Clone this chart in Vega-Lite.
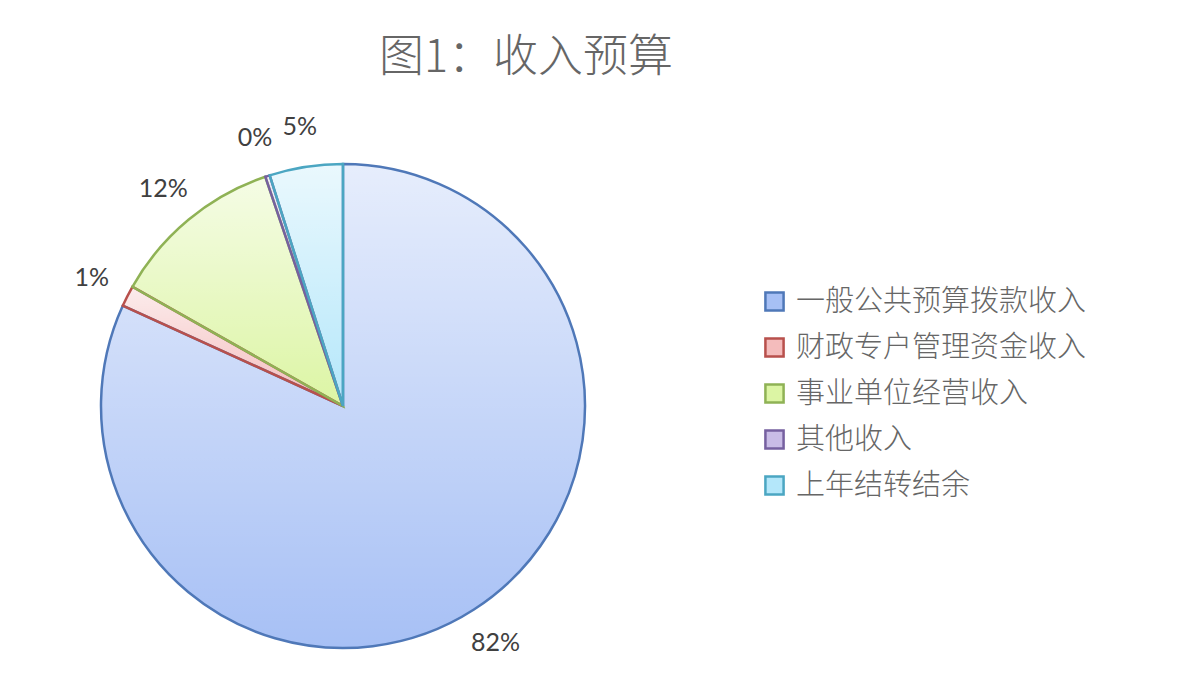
{
  "$schema": "https://vega.github.io/schema/vega-lite/v6.json",
  "width": 686,
  "height": 572,
  "autosize": "none",
  "padding": {"left": 0, "top": 120, "right": 508, "bottom": 0},
  "background": "white",
  "title": {
    "text": "图1：收入预算",
    "font": "Noto Sans CJK SC",
    "fontSize": 45,
    "fontWeight": 300,
    "color": "#666666",
    "anchor": "middle",
    "dx": 183,
    "offset": 34
  },
  "data": {
    "values": [
      {"item": "一般公共预算拨款收入", "share": 0.818, "rank": 1},
      {"item": "财政专户管理资金收入", "share": 0.014, "rank": 2},
      {"item": "事业单位经营收入", "share": 0.116, "rank": 3},
      {"item": "其他收入", "share": 0.003, "rank": 4},
      {"item": "上年结转结余", "share": 0.049, "rank": 5}
    ]
  },
  "config": {
    "view": {"stroke": null},
    "legend": {
      "orient": "none",
      "legendX": 760,
      "legendY": 167,
      "title": null,
      "symbolType": "square",
      "symbolSize": 330,
      "symbolStrokeWidth": 2.5,
      "labelFont": "Noto Sans CJK SC",
      "labelFontSize": 29,
      "labelFontWeight": 300,
      "labelColor": "#666666",
      "labelLimit": 400,
      "labelOffset": 7,
      "rowPadding": 16
    }
  },
  "layer": [
    {
      "mark": {"type": "arc", "outerRadius": 242, "strokeWidth": 0},
      "encoding": {
        "theta": {"field": "share", "type": "quantitative", "stack": true},
        "order": {"field": "rank"},
        "fill": {
          "field": "item",
          "type": "nominal",
          "sort": null,
          "scale": {
            "domain": ["一般公共预算拨款收入", "财政专户管理资金收入", "事业单位经营收入", "其他收入", "上年结转结余"],
            "range": ["#a7c0f5", "#f4bcbc", "#dcf5a4", "#c9bce6", "#b4e7fa"]
          }
        },
        "stroke": {
          "field": "item",
          "type": "nominal",
          "sort": null,
          "scale": {
            "domain": ["一般公共预算拨款收入", "财政专户管理资金收入", "事业单位经营收入", "其他收入", "上年结转结余"],
            "range": ["#4f78b8", "#b8504c", "#8fb255", "#7660a0", "#4ba6c2"]
          }
        }
      }
    },
    {
      "mark": {
        "type": "arc",
        "outerRadius": 242,
        "strokeWidth": 0,
        "fill": {
          "gradient": "linear",
          "x1": 0, "y1": 0, "x2": 0, "y2": 1,
          "stops": [
            {"offset": 0, "color": "rgba(255,255,255,0.72)"},
            {"offset": 1, "color": "rgba(255,255,255,0)"}
          ]
        }
      },
      "encoding": {
        "theta": {"field": "share", "type": "quantitative", "stack": true},
        "order": {"field": "rank"},
        "detail": {"field": "item"}
      }
    },
    {
      "mark": {"type": "arc", "outerRadius": 242, "strokeWidth": 2.5, "fill": null, "fillOpacity": 0},
      "encoding": {
        "theta": {"field": "share", "type": "quantitative", "stack": true},
        "order": {"field": "rank"},
        "stroke": {"field": "item", "type": "nominal", "sort": null}
      }
    },
    {
      "mark": {"type": "text", "radius": 282, "font": "Lato", "fontSize": 25, "color": "#404040"},
      "encoding": {
        "theta": {"field": "share", "type": "quantitative", "stack": true},
        "order": {"field": "rank"},
        "detail": {"field": "item"},
        "text": {"field": "share", "type": "quantitative", "format": ".0%"}
      }
    }
  ]
}
